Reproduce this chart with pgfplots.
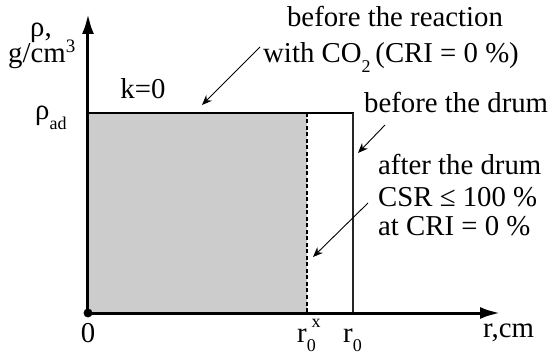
\documentclass[border=0pt]{standalone}
\usepackage{fontspec}
\setmainfont{Liberation Serif}
\usepackage{pgfplots}
\pgfplotsset{compat=1.18}
\usetikzlibrary{arrows.meta}

% density profile of a coke lump before and after the drum (k = 0)
\newcommand{\lbl}{\fontsize{28.8}{31}\selectfont}
\newcommand{\low}[1]{\raisebox{-0.32em}{\fontsize{18}{18}\selectfont #1}}
\newcommand{\high}[1]{\raisebox{0.5em}{\fontsize{18}{18}\selectfont #1}}
\newcommand{\unitsup}[1]{\raisebox{0.36em}{\fontsize{19}{19}\selectfont #1}}

\begin{document}
\begin{tikzpicture}
\useasboundingbox (-88pt,-43pt) rectangle (466pt,313pt);
\begin{axis}[
  scale only axis,
  width=412pt, height=299pt,
  xmin=0, xmax=412, ymin=0, ymax=299,
  axis lines=left,
  axis line style={line width=3pt, -{Latex[length=20pt,width=12pt]}},
  ticks=none,
  axis on top,
  clip=false,
]
% shaded part that survives the drum
\addplot[fill=gray!40, draw=none] coordinates {(0,200) (219,200)} \closedcycle;
% initial profile, rho = rho_ad up to r_0
\addplot[line width=2.8pt, black] coordinates {(0,200) (266,200)};
\addplot[line width=1.6pt, black!85] coordinates {(265,200) (265,0)};
% reduced radius r_0^x after the drum
\addplot[line width=1.8pt, black, dash pattern=on 4pt off 2.5pt] coordinates {(219,200) (219,0)};
% origin
\addplot[only marks, mark=*, mark size=4.2pt, black] coordinates {(0,0)};

% labels
\node[anchor=base west, inner sep=0pt] at (axis cs:-58,276) {\lbl ρ,};
\node[anchor=base west, inner sep=0pt] at (axis cs:-80,250) {\lbl g/cm\unitsup{3}};
\node[anchor=base west, inner sep=0pt] at (axis cs:-53,193) {\lbl ρ\low{ad}};
\node[anchor=base, inner sep=0pt] at (axis cs:55,214) {\lbl k=0};
\node[anchor=base, inner sep=0pt] at (axis cs:307,286) {\lbl before the reaction};
\node[anchor=base west, inner sep=0pt] at (axis cs:175,250) {\lbl with CO\low{2}\,(CRI = 0 \%)};
\node[anchor=base west, inner sep=0pt] at (axis cs:276,200) {\lbl before the drum};
\node[anchor=base west, inner sep=0pt] at (axis cs:290,138) {\lbl after the drum};
\node[anchor=base west, inner sep=0pt] at (axis cs:290,106) {\lbl CSR ≤ 100 \%};
\node[anchor=base west, inner sep=0pt] at (axis cs:290,77) {\lbl at CRI = 0 \%};
\node[anchor=base, inner sep=0pt] at (axis cs:0,-29) {\lbl 0};
\node[anchor=base west, inner sep=0pt] at (axis cs:209,-29) {\lbl r\rlap{\low{0}}\,\high{x}};
\node[anchor=base west, inner sep=0pt] at (axis cs:255,-29) {\lbl r\low{0}};
\node[anchor=base west, inner sep=0pt] at (axis cs:395,-24) {\lbl r,cm};

% pointers
\draw[line width=0.9pt, -{Stealth[length=10pt,width=8pt]}] (axis cs:172,266) -- (axis cs:114,208);
\draw[line width=0.9pt, -{Stealth[length=10pt,width=8pt]}] (axis cs:297,188) -- (axis cs:270,160);
\draw[line width=0.9pt, -{Stealth[length=10pt,width=8pt]}] (axis cs:280,110) -- (axis cs:225,56);
\end{axis}
\end{tikzpicture}
\end{document}
